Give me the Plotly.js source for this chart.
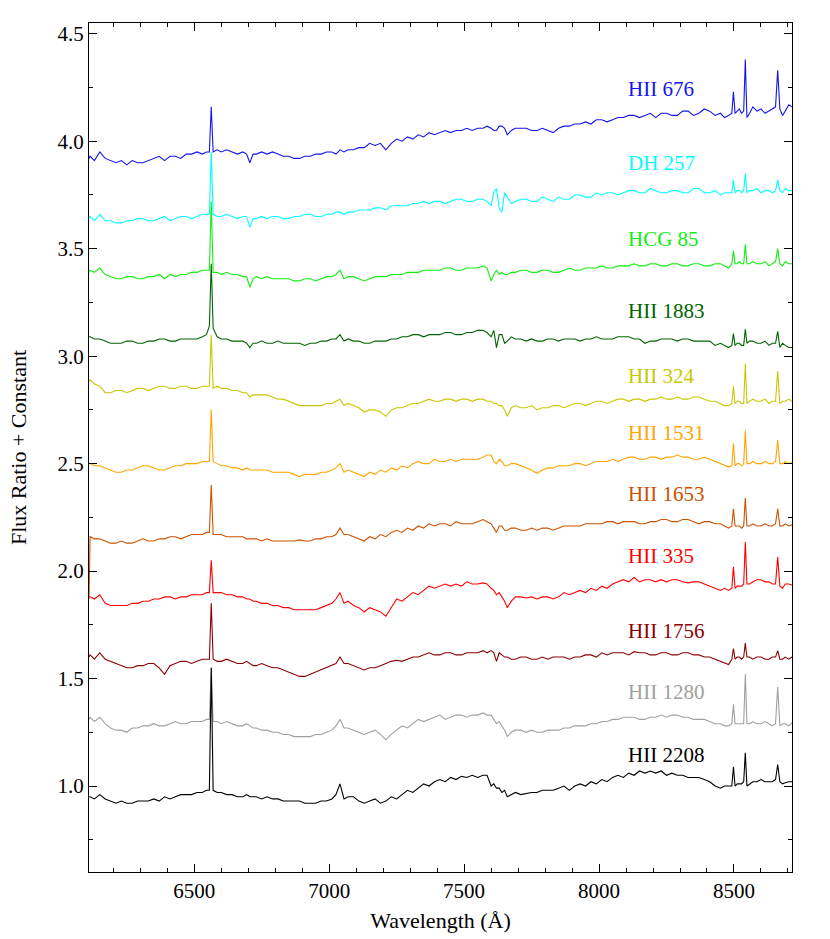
<!DOCTYPE html>
<html>
<head>
<meta charset="utf-8">
<script src="https://cdn.plot.ly/plotly-3.0.1.min.js"></script>
<style>html,body{margin:0;padding:0;background:#fff;}#chart{width:830px;height:939px;}</style>
</head>
<body>
<div id="chart"></div>
<script>
// Wavelength grid (Å)
const wavelength = [
  6110,6114,6130,6150,6170,6190,6210,6230,6250,6270,6290,6310,6330,6350,6370,6390,6410,6430,6450,6470,6490,
  6510,6530,6545,6556,6563,6570,6585,6600,6620,6640,6660,6680,6694,6706,6718,6730,6750,
  6770,6790,6810,6830,6850,6870,6890,6910,6930,6950,6970,6990,7010,7025,7040,7055,7070,7090,7110,
  7130,7150,7170,7190,7210,7230,7250,7270,7290,7310,7330,7350,7370,7390,7410,7430,7450,7470,7490,7510,
  7530,7550,7570,7585,7600,7610,7620,7630,7640,7650,7660,7675,7690,7710,7730,7750,7770,7790,7810,7830,
  7850,7870,7890,7910,7930,7950,7970,7990,8010,8030,8050,8070,8090,8110,8130,8150,8170,8190,8210,8230,
  8250,8270,8290,8310,8330,8350,8370,8390,8410,8430,8450,8465,8480,8492,8498,8504,8512,
  8520,8528,8536,8542,8548,8558,8570,8585,8600,8615,8630,8642,8654,8662,8670,8680,8690,8703,8715
];

const names = ["HII 676","DH 257","HCG 85","HII 1883","HII 324","HII 1531","HII 1653","HII 335","HII 1756","HII 1280","HII 2208"];
const colors = ["#1414ee","#00ffff","#11ee11","#006400","#c8c800","#ffa500","#cc5200","#ff0000","#8b0000","#a0a0a0","#000000"];
const labelY = [4.243,3.899,3.546,3.208,2.910,2.641,2.358,2.070,1.722,1.439,1.146];

const hii676 = [
  3.92,3.93,3.91,3.95,3.92,3.91,3.90,3.91,3.89,3.91,3.90,3.90,3.91,3.92,3.93,3.91,3.93,3.93,3.92,3.94,3.94,
  3.95,3.94,3.95,3.95,4.16,3.95,3.96,3.95,3.96,3.95,3.94,3.95,3.94,3.90,3.94,3.94,3.95,
  3.94,3.95,3.94,3.93,3.93,3.92,3.92,3.93,3.93,3.94,3.94,3.95,3.95,3.94,3.96,3.95,3.96,3.96,3.97,
  3.97,3.99,3.98,3.99,3.96,3.99,4.01,4.00,4.02,4.01,4.03,4.02,4.04,4.03,4.04,4.05,4.04,4.05,4.05,4.06,
  4.05,4.06,4.06,4.07,4.06,4.05,4.05,4.07,4.07,4.06,4.03,4.05,4.06,4.06,4.06,4.05,4.05,4.06,4.05,4.04,
  4.06,4.07,4.07,4.08,4.08,4.09,4.08,4.10,4.10,4.09,4.10,4.11,4.11,4.12,4.12,4.11,4.12,4.13,4.11,4.13,
  4.13,4.12,4.12,4.14,4.14,4.12,4.13,4.15,4.14,4.12,4.13,4.11,4.12,4.13,4.23,4.13,4.14,
  4.15,4.13,4.14,4.38,4.11,4.13,4.16,4.14,4.15,4.13,4.14,4.15,4.16,4.33,4.15,4.12,4.14,4.17,4.16
];
const dh257 = [
  3.64,3.65,3.63,3.66,3.63,3.63,3.62,3.62,3.63,3.63,3.64,3.64,3.63,3.63,3.64,3.65,3.63,3.64,3.65,3.65,3.64,
  3.65,3.66,3.66,3.66,3.95,3.66,3.65,3.65,3.66,3.65,3.64,3.65,3.65,3.60,3.64,3.64,3.65,
  3.64,3.65,3.65,3.64,3.64,3.65,3.65,3.66,3.66,3.65,3.65,3.66,3.66,3.67,3.67,3.66,3.67,3.67,3.68,
  3.68,3.68,3.69,3.69,3.68,3.70,3.70,3.70,3.70,3.71,3.71,3.72,3.71,3.72,3.72,3.71,3.72,3.73,3.73,3.72,
  3.72,3.73,3.73,3.72,3.70,3.76,3.78,3.69,3.67,3.76,3.74,3.71,3.72,3.73,3.73,3.72,3.72,3.74,3.73,3.72,
  3.74,3.73,3.73,3.75,3.75,3.74,3.74,3.76,3.75,3.76,3.76,3.75,3.76,3.77,3.77,3.76,3.76,3.78,3.77,3.76,
  3.76,3.77,3.77,3.76,3.76,3.78,3.78,3.76,3.76,3.77,3.75,3.76,3.76,3.76,3.82,3.76,3.77,
  3.77,3.76,3.77,3.85,3.76,3.77,3.77,3.78,3.76,3.77,3.77,3.76,3.77,3.82,3.77,3.76,3.78,3.77,3.77
];
const hcg85 = [
  3.39,3.40,3.39,3.41,3.38,3.37,3.36,3.36,3.37,3.37,3.36,3.36,3.37,3.37,3.38,3.36,3.38,3.37,3.38,3.38,3.39,
  3.39,3.40,3.40,3.40,3.72,3.39,3.39,3.38,3.39,3.38,3.38,3.37,3.37,3.32,3.36,3.37,3.36,
  3.37,3.36,3.36,3.36,3.36,3.35,3.35,3.36,3.36,3.35,3.36,3.37,3.37,3.38,3.40,3.36,3.37,3.37,3.36,
  3.35,3.36,3.37,3.37,3.37,3.38,3.38,3.38,3.39,3.39,3.39,3.40,3.40,3.40,3.40,3.41,3.41,3.40,3.40,3.41,
  3.41,3.41,3.42,3.41,3.35,3.38,3.40,3.38,3.39,3.38,3.38,3.39,3.39,3.40,3.40,3.39,3.39,3.40,3.40,3.39,
  3.39,3.40,3.41,3.40,3.40,3.41,3.41,3.41,3.42,3.41,3.41,3.42,3.42,3.42,3.43,3.42,3.42,3.43,3.43,3.42,
  3.42,3.43,3.43,3.42,3.42,3.43,3.43,3.42,3.42,3.43,3.43,3.42,3.41,3.43,3.49,3.43,3.43,
  3.44,3.43,3.43,3.52,3.43,3.43,3.44,3.43,3.43,3.44,3.42,3.43,3.44,3.50,3.43,3.42,3.44,3.43,3.43
];
const hii1883 = [
  3.09,3.09,3.08,3.08,3.07,3.06,3.06,3.06,3.07,3.07,3.06,3.06,3.07,3.07,3.08,3.08,3.07,3.07,3.08,3.08,3.08,
  3.08,3.09,3.10,3.14,3.43,3.13,3.09,3.08,3.08,3.07,3.07,3.07,3.06,3.04,3.06,3.06,3.07,
  3.06,3.06,3.07,3.06,3.06,3.06,3.06,3.05,3.06,3.06,3.07,3.07,3.08,3.08,3.10,3.07,3.08,3.07,3.07,
  3.06,3.06,3.07,3.07,3.07,3.08,3.08,3.09,3.09,3.10,3.10,3.09,3.10,3.10,3.10,3.11,3.11,3.10,3.10,3.11,
  3.11,3.12,3.12,3.11,3.09,3.12,3.04,3.10,3.10,3.06,3.07,3.09,3.08,3.08,3.07,3.08,3.07,3.07,3.08,3.08,
  3.07,3.08,3.08,3.08,3.07,3.08,3.08,3.09,3.08,3.08,3.08,3.09,3.09,3.09,3.08,3.08,3.06,3.07,3.07,3.08,
  3.08,3.08,3.07,3.08,3.08,3.07,3.07,3.07,3.07,3.05,3.06,3.05,3.04,3.05,3.105,3.05,3.06,
  3.06,3.05,3.05,3.125,3.06,3.07,3.07,3.06,3.06,3.07,3.05,3.06,3.06,3.115,3.04,3.06,3.05,3.04,3.04
];
const hii324 = [
  2.88,2.89,2.87,2.86,2.83,2.83,2.84,2.84,2.83,2.84,2.85,2.85,2.84,2.85,2.86,2.86,2.85,2.85,2.86,2.86,2.85,
  2.85,2.86,2.86,2.86,3.10,2.85,2.86,2.85,2.85,2.84,2.84,2.83,2.83,2.81,2.82,2.82,2.82,
  2.82,2.81,2.80,2.80,2.79,2.78,2.77,2.77,2.77,2.77,2.77,2.78,2.78,2.79,2.80,2.77,2.78,2.77,2.76,
  2.74,2.75,2.75,2.74,2.72,2.75,2.76,2.76,2.77,2.78,2.78,2.79,2.80,2.79,2.79,2.80,2.80,2.79,2.80,2.80,
  2.79,2.80,2.80,2.79,2.79,2.78,2.78,2.77,2.77,2.75,2.72,2.76,2.77,2.76,2.76,2.77,2.75,2.76,2.76,2.77,
  2.77,2.76,2.77,2.78,2.78,2.77,2.78,2.79,2.79,2.78,2.79,2.80,2.80,2.79,2.80,2.80,2.79,2.80,2.80,2.81,
  2.80,2.80,2.81,2.80,2.80,2.81,2.81,2.80,2.79,2.79,2.78,2.77,2.77,2.78,2.86,2.78,2.79,
  2.79,2.78,2.78,2.965,2.78,2.79,2.80,2.79,2.79,2.80,2.78,2.79,2.79,2.93,2.78,2.79,2.79,2.80,2.79
];
const hii1531 = [
  2.50,2.50,2.49,2.49,2.48,2.47,2.46,2.46,2.47,2.47,2.48,2.49,2.49,2.48,2.47,2.47,2.48,2.49,2.49,2.50,2.50,
  2.50,2.51,2.51,2.51,2.75,2.51,2.50,2.49,2.49,2.48,2.48,2.47,2.48,2.47,2.47,2.47,2.47,
  2.47,2.46,2.46,2.46,2.46,2.45,2.44,2.45,2.45,2.45,2.46,2.46,2.47,2.48,2.50,2.46,2.47,2.46,2.45,
  2.44,2.46,2.45,2.47,2.46,2.48,2.47,2.49,2.48,2.50,2.51,2.50,2.50,2.52,2.51,2.51,2.52,2.51,2.52,2.52,
  2.52,2.52,2.53,2.54,2.54,2.51,2.50,2.52,2.51,2.49,2.49,2.50,2.50,2.49,2.48,2.47,2.455,2.47,2.48,2.48,
  2.49,2.49,2.49,2.50,2.50,2.49,2.50,2.51,2.51,2.51,2.52,2.51,2.52,2.53,2.53,2.52,2.52,2.53,2.53,2.52,
  2.53,2.53,2.54,2.53,2.53,2.52,2.52,2.53,2.52,2.51,2.50,2.49,2.485,2.49,2.595,2.49,2.50,
  2.50,2.49,2.50,2.655,2.50,2.50,2.51,2.50,2.50,2.51,2.50,2.50,2.51,2.61,2.50,2.50,2.51,2.50,2.505
];
const hii1653 = [
  1.87,2.16,2.15,2.15,2.14,2.13,2.13,2.14,2.13,2.13,2.14,2.15,2.14,2.14,2.15,2.15,2.16,2.16,2.15,2.16,2.17,
  2.17,2.17,2.18,2.18,2.40,2.17,2.17,2.17,2.16,2.16,2.16,2.16,2.15,2.15,2.15,2.15,2.14,
  2.15,2.14,2.14,2.14,2.14,2.14,2.145,2.14,2.14,2.15,2.15,2.16,2.16,2.17,2.20,2.17,2.17,2.16,2.15,
  2.14,2.16,2.15,2.17,2.16,2.18,2.19,2.18,2.20,2.19,2.21,2.20,2.22,2.21,2.22,2.22,2.21,2.23,2.22,2.22,
  2.22,2.23,2.24,2.23,2.22,2.20,2.18,2.21,2.21,2.19,2.19,2.20,2.20,2.19,2.19,2.20,2.19,2.20,2.20,2.19,
  2.20,2.21,2.21,2.21,2.21,2.22,2.22,2.22,2.22,2.23,2.23,2.22,2.23,2.23,2.23,2.22,2.22,2.23,2.23,2.24,
  2.24,2.23,2.23,2.24,2.24,2.23,2.22,2.23,2.23,2.22,2.22,2.21,2.20,2.21,2.29,2.21,2.21,
  2.21,2.20,2.21,2.34,2.21,2.21,2.22,2.21,2.21,2.22,2.21,2.21,2.22,2.29,2.21,2.21,2.22,2.21,2.215
];
const hii335 = [
  1.88,1.88,1.87,1.89,1.85,1.84,1.84,1.84,1.84,1.85,1.85,1.86,1.86,1.87,1.87,1.88,1.88,1.87,1.88,1.88,1.89,
  1.89,1.89,1.90,1.90,2.05,1.90,1.90,1.90,1.89,1.89,1.88,1.88,1.87,1.87,1.86,1.86,1.85,
  1.85,1.84,1.84,1.83,1.83,1.82,1.82,1.82,1.82,1.82,1.83,1.84,1.85,1.87,1.90,1.85,1.86,1.84,1.83,
  1.81,1.83,1.82,1.81,1.79,1.83,1.87,1.86,1.88,1.90,1.89,1.91,1.93,1.92,1.93,1.94,1.93,1.94,1.93,1.95,
  1.94,1.94,1.945,1.94,1.92,1.91,1.89,1.90,1.88,1.86,1.83,1.86,1.88,1.88,1.875,1.88,1.87,1.88,1.88,1.87,
  1.88,1.90,1.89,1.90,1.91,1.90,1.92,1.91,1.93,1.92,1.94,1.95,1.96,1.95,1.97,1.95,1.96,1.96,1.95,1.96,
  1.95,1.96,1.96,1.95,1.945,1.95,1.95,1.94,1.93,1.92,1.91,1.92,1.91,1.92,2.02,1.92,1.93,
  1.93,1.93,1.94,2.135,1.94,1.94,1.95,1.96,1.96,1.95,1.95,1.94,1.94,2.065,1.93,1.92,1.94,1.94,1.935
];
const hii1756 = [
  1.60,1.61,1.59,1.62,1.59,1.58,1.57,1.56,1.55,1.55,1.56,1.56,1.57,1.57,1.55,1.52,1.56,1.57,1.58,1.58,1.57,
  1.58,1.59,1.59,1.59,1.85,1.59,1.58,1.58,1.59,1.58,1.57,1.57,1.58,1.57,1.56,1.56,1.57,
  1.56,1.55,1.55,1.54,1.53,1.52,1.51,1.51,1.52,1.53,1.54,1.55,1.56,1.57,1.60,1.57,1.57,1.56,1.55,
  1.54,1.55,1.55,1.56,1.57,1.58,1.585,1.58,1.59,1.60,1.60,1.61,1.62,1.61,1.61,1.62,1.62,1.61,1.61,1.62,
  1.62,1.62,1.63,1.62,1.63,1.62,1.58,1.62,1.61,1.60,1.60,1.59,1.59,1.60,1.60,1.59,1.59,1.60,1.59,1.60,
  1.60,1.60,1.59,1.60,1.60,1.61,1.61,1.60,1.62,1.61,1.62,1.62,1.62,1.61,1.625,1.62,1.62,1.61,1.61,1.62,
  1.62,1.61,1.61,1.62,1.62,1.61,1.61,1.60,1.60,1.59,1.58,1.57,1.565,1.59,1.64,1.59,1.60,
  1.60,1.59,1.60,1.665,1.60,1.60,1.59,1.60,1.60,1.59,1.59,1.60,1.60,1.63,1.59,1.59,1.60,1.59,1.60
];
const hii1280 = [
  1.31,1.32,1.30,1.32,1.29,1.27,1.26,1.26,1.25,1.27,1.27,1.28,1.28,1.29,1.28,1.28,1.29,1.30,1.29,1.29,1.30,
  1.30,1.30,1.31,1.31,1.55,1.30,1.30,1.29,1.30,1.29,1.28,1.28,1.29,1.28,1.27,1.27,1.26,
  1.26,1.25,1.25,1.24,1.24,1.23,1.23,1.23,1.23,1.24,1.24,1.25,1.26,1.28,1.31,1.27,1.27,1.26,1.25,
  1.24,1.25,1.26,1.24,1.215,1.24,1.26,1.28,1.27,1.29,1.31,1.30,1.31,1.32,1.33,1.31,1.32,1.33,1.33,1.32,
  1.33,1.33,1.34,1.33,1.33,1.31,1.29,1.30,1.28,1.26,1.23,1.25,1.26,1.26,1.25,1.26,1.25,1.25,1.26,1.26,
  1.26,1.27,1.27,1.28,1.28,1.28,1.29,1.29,1.30,1.30,1.31,1.31,1.32,1.32,1.32,1.31,1.31,1.32,1.32,1.33,
  1.32,1.33,1.33,1.32,1.32,1.31,1.31,1.31,1.30,1.29,1.29,1.28,1.28,1.29,1.38,1.29,1.29,
  1.29,1.29,1.29,1.52,1.29,1.29,1.30,1.29,1.29,1.30,1.29,1.28,1.29,1.46,1.28,1.29,1.29,1.28,1.295
];
const hii2208 = [
  0.95,0.95,0.94,0.96,0.94,0.93,0.92,0.93,0.92,0.92,0.93,0.93,0.93,0.94,0.93,0.95,0.94,0.95,0.96,0.96,0.96,
  0.97,0.97,0.98,0.98,1.55,0.98,0.97,0.97,0.96,0.96,0.95,0.95,0.96,0.95,0.95,0.95,0.94,
  0.95,0.94,0.94,0.93,0.93,0.93,0.93,0.92,0.92,0.92,0.93,0.93,0.94,0.96,1.01,0.94,0.95,0.95,0.93,
  0.92,0.93,0.94,0.92,0.93,0.95,0.94,0.96,0.98,0.97,0.99,1.01,1.00,1.02,1.03,1.02,1.04,1.03,1.045,1.04,
  1.05,1.04,1.05,1.05,1.00,1.01,0.99,0.99,0.97,0.98,0.95,0.96,0.97,0.96,0.965,0.97,0.97,0.98,0.98,0.98,
  0.99,1.00,0.98,1.00,1.01,1.00,1.02,1.01,1.03,1.02,1.04,1.05,1.04,1.06,1.05,1.07,1.06,1.07,1.06,1.07,
  1.05,1.06,1.05,1.05,1.04,1.04,1.04,1.03,1.02,1.00,0.99,1.00,1.00,1.00,1.09,1.00,1.01,
  1.01,1.01,1.02,1.155,1.00,1.01,1.02,1.02,1.03,1.02,1.02,1.02,1.03,1.10,1.02,1.01,1.015,1.02,1.02
];

const series = [hii676,dh257,hcg85,hii1883,hii324,hii1531,hii1653,hii335,hii1756,hii1280,hii2208];

const FONT = "Liberation Serif";

const traces = series.map((ys,i)=>({
  type:'scatter', mode:'lines', x:wavelength, y:ys, name:names[i],
  line:{color:colors[i], width:1.1}, hoverinfo:'skip'
}));

const annotations = names.map((n,i)=>({
  x:8100, y:labelY[i], xref:'x', yref:'y', text:n, showarrow:false,
  xanchor:'left', yanchor:'middle', font:{family:FONT, size:21, color:colors[i]}
}));

const axisCommon = {
  showline:true, linecolor:'#000', linewidth:1, mirror:'ticks',
  ticks:'inside', ticklen:8, tickwidth:1, tickcolor:'#000',
  showgrid:false, zeroline:false,
  tickfont:{family:FONT, size:21, color:'#000'}
};

const layout = {
  width:830, height:939,
  margin:{l:89, r:38, t:23, b:67},
  paper_bgcolor:'#fff', plot_bgcolor:'#fff',
  showlegend:false,
  xaxis:Object.assign({}, axisCommon, {
    range:[6110, 8715], tick0:6500, dtick:500,
    minor:{dtick:100, ticks:'inside', ticklen:4, tickcolor:'#000', showgrid:false},
    title:{text:'Wavelength (Å)', font:{family:FONT, size:22, color:'#000'}, standoff:10}
  }),
  yaxis:Object.assign({}, axisCommon, {
    range:[0.6, 4.55], tick0:0.5, dtick:0.5, tickformat:'.1f',
    minor:{dtick:0.25, ticks:'inside', ticklen:4, tickcolor:'#000', showgrid:false},
    title:{text:'Flux Ratio + Constant', font:{family:FONT, size:22, color:'#000'}, standoff:24}
  }),
  annotations:annotations
};

Plotly.newPlot('chart', traces, layout, {displayModeBar:false, staticPlot:true});
</script>
</body>
</html>
